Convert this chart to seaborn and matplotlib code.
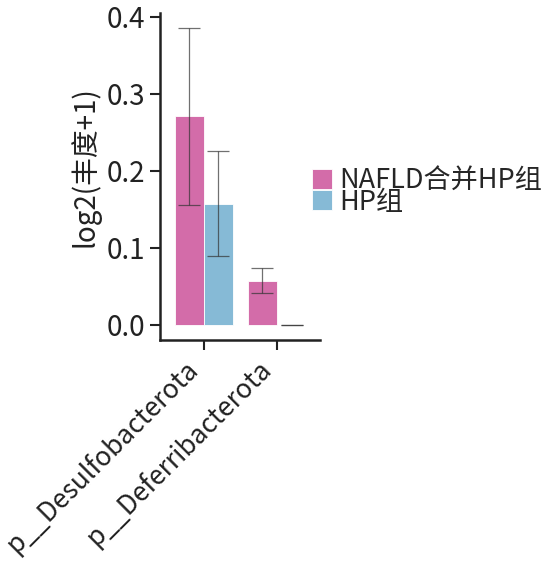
import pandas as pd
import numpy as np
import matplotlib.pyplot as plt
import seaborn as sns

# values
phyla = ['p__Desulfobacterota', 'p__Deferribacterota']
groups = ['NAFLD合并HP组', 'HP组']
nafld_mean = [0.271, 0.057]
nafld_err = [0.115, 0.0165]
hp_mean = [0.157, 0.0]
hp_err = [0.068, 0.0]
colors = ['#D36CA9', '#86BAD6']

df = pd.DataFrame({
    'phylum': phyla * 2,
    'group': [groups[0]] * 2 + [groups[1]] * 2,
    'value': nafld_mean + hp_mean,
})
errs = {groups[0]: nafld_err, groups[1]: hp_err}

sns.set_style('ticks')
plt.rcParams['font.family'] = ['Noto Sans CJK SC', 'DejaVu Sans']

fig = plt.figure(figsize=(5.57, 5.67), dpi=100)
ax = fig.add_axes([160 / 557, 1 - 340 / 567, 160 / 557, 327 / 567])

sns.barplot(data=df, x='phylum', y='value', hue='group', palette=colors,
            saturation=1, errorbar=None, width=0.8, ax=ax,
            edgecolor='white', linewidth=0.6)

# error bars drawn on top of the seaborn bars
for cont, g in zip(ax.containers, groups):
    xs = [p.get_x() + p.get_width() / 2 for p in cont.patches]
    ys = [p.get_height() for p in cont.patches]
    ax.errorbar(xs, ys, yerr=errs[g], fmt='none', ecolor='#333333',
                elinewidth=0.9, capsize=8, capthick=0.9, alpha=0.7)

ax.set_xlim(-0.6, 1.59)
ax.set_ylim(-0.02, 0.405)
ax.set_yticks([0.0, 0.1, 0.2, 0.3, 0.4])
ax.set_yticklabels(['0.0', '0.1', '0.2', '0.3', '0.4'])
ax.set_xlabel('')
ax.set_ylabel('log2(丰度+1)', fontsize=20, color='#222222')
ax.yaxis.set_label_coords(-0.37, 0.53)
ax.tick_params(axis='both', labelsize=20, colors='#222222', width=1.5, length=7)
ax.tick_params(axis='x', labelsize=19)
plt.setp(ax.get_xticklabels(), rotation=45, ha='right')
for s in ['left', 'bottom']:
    ax.spines[s].set_linewidth(1.8)
    ax.spines[s].set_color('#222222')
sns.despine(ax=ax)

ax.legend(loc='center left', bbox_to_anchor=(0.88, 0.454), frameon=False,
          fontsize=19.5, handlelength=0.77, handleheight=0.77, handletextpad=0.25,
          labelspacing=-0.22, borderaxespad=0)

fig.savefig('out.png', dpi=100)
